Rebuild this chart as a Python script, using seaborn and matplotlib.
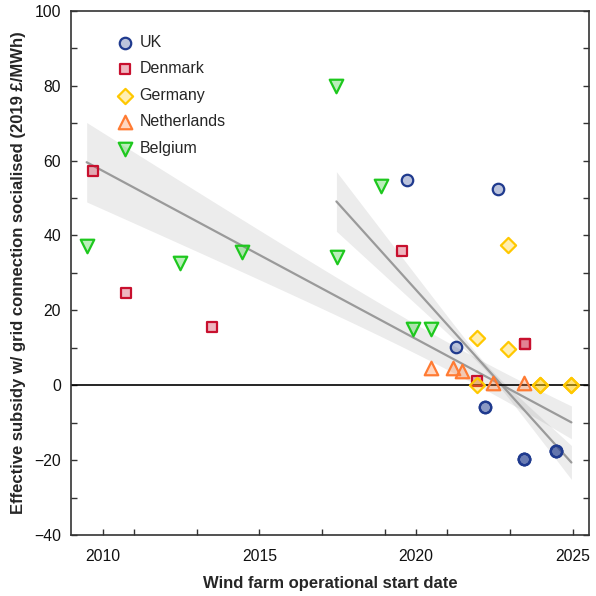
import numpy as np
import pandas as pd
import matplotlib
matplotlib.use("Agg")
import matplotlib.pyplot as plt
from matplotlib.colors import to_rgba
from matplotlib.ticker import FixedLocator, MultipleLocator
import seaborn as sns

# Offshore wind farms: operational start date and effective subsidy (2019 £/MWh)
countries = ["UK", "Denmark", "Germany", "Netherlands", "Belgium"]

uk_years = [2019.70, 2022.63, 2021.29, 2022.21, 2022.21,
            2023.45, 2023.45, 2023.45, 2024.47, 2024.47, 2024.47]
uk_subsidy = [54.7, 52.4, 10.1, -5.9, -5.9,
              -19.8, -19.8, -19.8, -17.6, -17.6, -17.6]

dk_years = [2009.68, 2010.73, 2013.48, 2019.55, 2021.95, 2023.48, 2023.48]
dk_subsidy = [57.3, 24.5, 15.6, 35.9, 1.2, 10.9, 10.9]

de_years = [2022.95, 2021.96, 2022.95, 2021.94, 2023.96, 2023.96, 2024.96, 2024.96]
de_subsidy = [37.5, 12.6, 9.7, 0.0, 0.0, 0.0, 0.0, 0.0]

nl_years = [2020.47, 2021.19, 2021.46, 2022.46, 2023.45]
nl_subsidy = [4.5, 4.5, 3.7, 0.5, 0.5]

be_years = [2009.49, 2012.48, 2014.46, 2017.46, 2017.47, 2018.88, 2019.89, 2020.48]
be_subsidy = [37.3, 32.6, 35.5, 80.0, 34.2, 53.1, 14.9, 14.9]

# Trend over all projects, and over projects starting from 2017 onwards
all_fit_years = [2009.5, 2025.0]
all_fit_values = [59.5, -10.1]
all_band_years = [2009.5, 2014.0, 2025.0]
all_band_halfwidth = [10.6, 7.3, 4.4]

recent_start_year = 2017
recent_fit_years = [2017.5, 2025.0]
recent_fit_values = [48.7, -21.0]
recent_band_years = [2017.5, 2020.4, 2025.0]
recent_band_halfwidth = [7.9, 3.2, 4.6]

x_ticks = [2010, 2015, 2020, 2025]
x_minor_ticks = [2011, 2013, 2017, 2019, 2021, 2023]
y_ticks = [-40, -20, 0, 20, 40, 60, 80, 100]

frames = []
for name, yrs, vals in zip(countries,
                           [uk_years, dk_years, de_years, nl_years, be_years],
                           [uk_subsidy, dk_subsidy, de_subsidy, nl_subsidy, be_subsidy]):
    frames.append(pd.DataFrame({"country": name, "year": yrs, "subsidy": vals}))
df = pd.concat(frames, ignore_index=True)

marker_style = {
    "UK": ("o", "#1f3a8e", 68),
    "Denmark": ("s", "#c8102e", 56),
    "Germany": ("D", "#ffc800", 60),
    "Netherlands": ("^", "#ff7b33", 95),
    "Belgium": ("v", "#1ec81e", 95),
}

sns.set_theme(style="white")
plt.rcParams["font.family"] = ["Liberation Sans", "DejaVu Sans"]

fig = plt.figure(figsize=(5.96, 5.96), dpi=100)
ax = fig.add_axes([0.1186, 0.1023, 0.8701, 0.8797])


def draw_trend(ax, x_lo, x_hi, fit_years, fit_values, band_years, band_half):
    xs = np.linspace(x_lo, x_hi, 300)
    ys = np.polyval(np.polyfit(fit_years, fit_values, 1), xs)
    half = np.sqrt(np.polyval(np.polyfit(band_years, np.square(band_half), 2), xs))
    ax.fill_between(xs, ys - half, ys + half, color="0.5", alpha=0.15,
                    linewidth=0, zorder=1)
    sns.lineplot(x=xs, y=ys, ax=ax, color="#9a9a9a", linewidth=1.6, zorder=2)


recent = df[df["year"] >= recent_start_year]
draw_trend(ax, df["year"].min(), df["year"].max(),
           all_fit_years, all_fit_values, all_band_years, all_band_halfwidth)
draw_trend(ax, recent["year"].min(), recent["year"].max(),
           recent_fit_years, recent_fit_values, recent_band_years, recent_band_halfwidth)

ax.axhline(0, color="black", linewidth=1.2, zorder=2.5)

for name in countries:
    sub = df[df["country"] == name]
    m, col, s = marker_style[name]
    sns.scatterplot(data=sub, x="year", y="subsidy", ax=ax, marker=m, s=s,
                    facecolor=to_rgba(col, 0.3), edgecolor=col, linewidth=1.6,
                    label=name, zorder=3)

ax.set_xlim(2008.98, 2025.53)
ax.set_ylim(-40, 100)
ax.xaxis.set_major_locator(FixedLocator(x_ticks))
ax.xaxis.set_minor_locator(FixedLocator(x_minor_ticks))
ax.yaxis.set_major_locator(FixedLocator(y_ticks))
ax.yaxis.set_minor_locator(MultipleLocator(10))

for side in ["left", "right", "top", "bottom"]:
    ax.spines[side].set_color("#333333")
    ax.spines[side].set_linewidth(1.2)

ax.tick_params(which="both", direction="in", length=4.5, width=1.0,
               color="#333333", right=True, top=False, left=True, bottom=True)
ax.tick_params(axis="x", which="major", labelsize=11.3, pad=10, labelcolor="#111111")
ax.tick_params(axis="y", which="major", labelsize=11.3, pad=7, labelcolor="#111111")

ax.set_xlabel("Wind farm operational start date", fontsize=12, fontweight="bold",
              labelpad=8.5)
ax.set_ylabel("Effective subsidy w/ grid connection socialised (2019 £/MWh)",
              fontsize=12, fontweight="bold", labelpad=6)

ax.legend(loc="upper left", bbox_to_anchor=(0.077, 0.966), frameon=False,
          fontsize=11.5, handlelength=1.0, handletextpad=0.4, labelspacing=0.72,
          borderpad=0.4, borderaxespad=0)

fig.savefig("out.png", dpi=100)
